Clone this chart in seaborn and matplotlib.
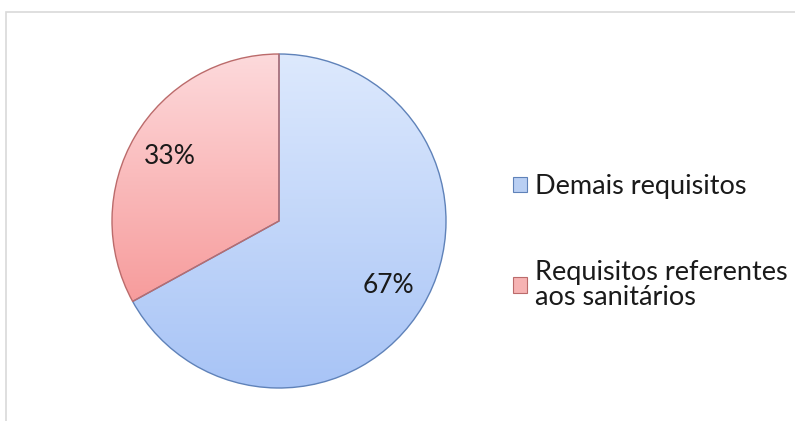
import numpy as np
import matplotlib
matplotlib.use("Agg")
import matplotlib.pyplot as plt
import seaborn as sns
from matplotlib.colors import LinearSegmentedColormap
from matplotlib.patches import Rectangle, Patch

categories = ["Demais requisitos", "Requisitos referentes\naos sanitários"]
values = [67, 33]

sns.set_style("white")
plt.rcParams['font.family'] = ['Lato', 'DejaVu Sans']

top_colors = ["#dde9fd", "#fddadc"]
bottom_colors = ["#a8c4f6", "#f79c9c"]
edge_colors = ["#5f82b9", "#bb6b6b"]
legend_colors = ["#b9cff3", "#f6b3b3"]
legend_edges = ["#5f82b9", "#bb6b6b"]

W, H = 795, 421
fig = plt.figure(figsize=(W / 100, H / 100), dpi=100)
fig.patch.set_facecolor("white")

# chart area frame
fig.patches.append(Rectangle((6 / W, -0.1), 1.2, (H - 12) / H + 0.1,
                             transform=fig.transFigure, fill=False,
                             edgecolor="#d9d9d9", linewidth=1.2))

cx, cy, r = 279, H - 221, 167
ax = fig.add_axes([(cx - r) / W, (cy - r) / H, 2 * r / W, 2 * r / H])
wedges, texts, autotexts = ax.pie(values, startangle=90, counterclock=False,
                                  colors=top_colors, autopct="%1.0f%%",
                                  pctdistance=0.76,
                                  wedgeprops=dict(linewidth=1.0),
                                  textprops=dict(fontsize=19, color="#1a1a1a"))

grad = np.linspace(0, 1, 256).reshape(-1, 1)
for i, w in enumerate(wedges):
    cmap = LinearSegmentedColormap.from_list(f"g{i}", [top_colors[i], bottom_colors[i]])
    # gradient spans each wedge's own vertical extent
    verts = w.get_path().vertices
    y0 = max(verts[:, 1].min(), -1)
    y1 = min(verts[:, 1].max(), 1)
    im = ax.imshow(grad, extent=(-1, 1, y0, y1), cmap=cmap, origin="upper",
                   aspect="auto", zorder=0.5)
    im.set_clip_path(w)
    w.set_facecolor("none")
    w.set_edgecolor(edge_colors[i])
    w.set_zorder(1)
for t in autotexts:
    t.set_zorder(3)
ax.set_xlim(-1, 1)
ax.set_ylim(-1, 1)
ax.set_aspect("equal")
ax.axis("off")

handles = [Patch(facecolor=legend_colors[i], edgecolor=legend_edges[i], linewidth=0.8)
           for i in range(2)]
leg = fig.legend(handles, categories, loc="upper left",
                 bbox_to_anchor=(489 / W, (H - 150) / H), frameon=False,
                 fontsize=19.5, labelspacing=2.23, handlelength=0.5, handleheight=0.5,
                 handletextpad=0.3, labelcolor="#1a1a1a")
for t in leg.get_texts():
    t.set_linespacing(1.0)

fig.savefig("out.png", dpi=100, facecolor="white")
